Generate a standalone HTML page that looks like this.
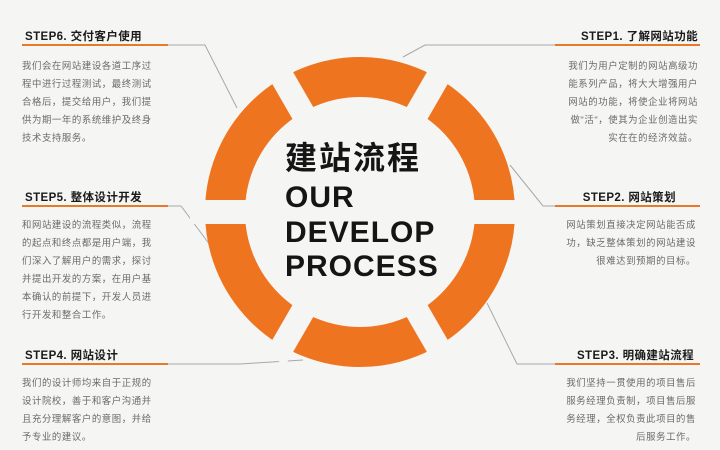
<!DOCTYPE html>
<html><head><meta charset="utf-8"><style>
html,body{margin:0;padding:0;background:#f5f5f4;}
svg{display:block}
.t{font-family:"Liberation Sans","Noto Sans CJK SC",sans-serif;font-weight:bold;font-size:11.5px;fill:#1a1a1a;letter-spacing:0.4px;}
.b{font-family:"Liberation Sans","Noto Sans CJK SC",sans-serif;font-size:9.4px;fill:#6a6a6a;letter-spacing:0.6px;}
.c{font-family:"Liberation Sans","Noto Sans CJK SC",sans-serif;font-weight:bold;fill:#151515;}
</style></head><body>
<svg width="720" height="450" viewBox="0 0 720 450" xmlns="http://www.w3.org/2000/svg">
<rect width="720" height="450" fill="#f5f5f4"/>
<g stroke="#a8a8a8" stroke-width="1" fill="none">
<polyline points="168,45 205,45 237,108"/>
<polyline points="555,45 425,45 403,57"/>
<polyline points="168,206 181,206 210,245"/>
<polyline points="555,206 543,206 510,165"/>
<polyline points="168,364 240,364 303,360"/>
<polyline points="555,364 517,364 487,303"/>
</g>
<circle cx="360" cy="212" r="135" fill="none" stroke="#ef741f" stroke-width="40"/>
<g stroke="#f5f5f4" stroke-width="24">
<line x1="190" y1="212" x2="530" y2="212"/>
<line x1="190" y1="212" x2="530" y2="212" transform="rotate(60 360 212)"/>
<line x1="190" y1="212" x2="530" y2="212" transform="rotate(-60 360 212)"/>
</g>
<text class="c" x="285" y="169" font-size="32" letter-spacing="2">建站流程</text>
<text class="c" x="285" y="207" font-size="30" letter-spacing="1">OUR</text>
<text class="c" x="285" y="242" font-size="30" letter-spacing="1">DEVELOP</text>
<text class="c" x="285" y="276" font-size="30" letter-spacing="1">PROCESS</text>
<g stroke="#e8782a" stroke-width="2">
<line x1="22" y1="45" x2="168" y2="45"/>
<line x1="555" y1="45" x2="700" y2="45"/>
<line x1="22" y1="206" x2="168" y2="206"/>
<line x1="555" y1="206" x2="700" y2="206"/>
<line x1="22" y1="364" x2="168" y2="364"/>
<line x1="555" y1="364" x2="700" y2="364"/>
</g>
<text class="t" x="25" y="40">STEP6. 交付客户使用</text>
<text class="b" x="22" y="69">我们会在网站建设各道工序过</text>
<text class="b" x="22" y="87">程中进行过程测试，最终测试</text>
<text class="b" x="22" y="105">合格后，提交给用户，我们提</text>
<text class="b" x="22" y="123">供为期一年的系统维护及终身</text>
<text class="b" x="22" y="141">技术支持服务。</text>
<text class="t" x="698" y="40" text-anchor="end">STEP1. 了解网站功能</text>
<g text-anchor="end">
<text class="b" x="698" y="69">我们为用户定制的网站高级功</text>
<text class="b" x="698" y="87">能系列产品，将大大增强用户</text>
<text class="b" x="698" y="105">网站的功能，将使企业将网站</text>
<text class="b" x="698" y="123">做"活"，使其为企业创造出实</text>
<text class="b" x="698" y="141">实在在的经济效益。</text>
</g>
<text class="t" x="25" y="201">STEP5. 整体设计开发</text>
<text class="b" x="22" y="228">和网站建设的流程类似，流程</text>
<text class="b" x="22" y="246">的起点和终点都是用户端，我</text>
<text class="b" x="22" y="264">们深入了解用户的需求，探讨</text>
<text class="b" x="22" y="282">并提出开发的方案，在用户基</text>
<text class="b" x="22" y="300">本确认的前提下，开发人员进</text>
<text class="b" x="22" y="318">行开发和整合工作。</text>
<text class="t" x="676" y="201" text-anchor="end">STEP2. 网站策划</text>
<g text-anchor="end">
<text class="b" x="696" y="228">网站策划直接决定网站能否成</text>
<text class="b" x="696" y="246">功，缺乏整体策划的网站建设</text>
<text class="b" x="696" y="264">很难达到预期的目标。</text>
</g>
<text class="t" x="25" y="359">STEP4. 网站设计</text>
<text class="b" x="22" y="386">我们的设计师均来自于正规的</text>
<text class="b" x="22" y="404">设计院校，善于和客户沟通并</text>
<text class="b" x="22" y="422">且充分理解客户的意图，并给</text>
<text class="b" x="22" y="440">予专业的建议。</text>
<text class="t" x="694" y="359" text-anchor="end">STEP3. 明确建站流程</text>
<g text-anchor="end">
<text class="b" x="696" y="386">我们坚持一贯使用的项目售后</text>
<text class="b" x="696" y="404">服务经理负责制，项目售后服</text>
<text class="b" x="696" y="422">务经理，全权负责此项目的售</text>
<text class="b" x="696" y="440">后服务工作。</text>
</g>
</svg>
</body></html>
